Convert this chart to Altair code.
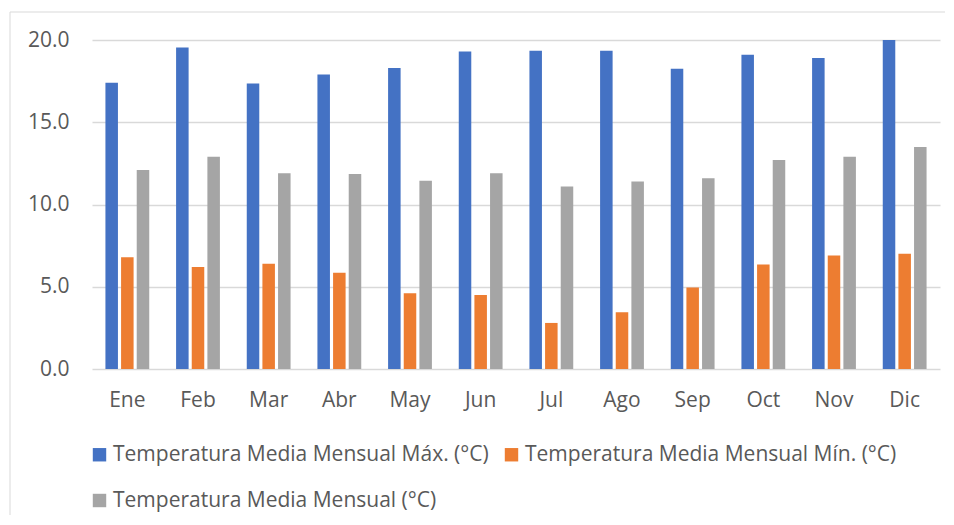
import altair as alt
import pandas as pd

months = ["Ene", "Feb", "Mar", "Abr", "May", "Jun", "Jul", "Ago", "Sep", "Oct", "Nov", "Dic"]
tmax = [17.4, 19.55, 17.35, 17.9, 18.3, 19.3, 19.35, 19.35, 18.25, 19.1, 18.9, 20.0]
tmin = [6.8, 6.2, 6.4, 5.85, 4.6, 4.5, 2.8, 3.45, 4.95, 6.35, 6.9, 7.0]
tmean = [12.1, 12.9, 11.9, 11.85, 11.45, 11.9, 11.1, 11.4, 11.6, 12.7, 12.9, 13.5]

series = [
    "Temperatura Media Mensual Máx. (°C)",
    "Temperatura Media Mensual Mín. (°C)",
    "Temperatura Media Mensual (°C)",
]
colors = ["#4472C4", "#ED7D31", "#A5A5A5"]

rows = []
for i, m in enumerate(months):
    for s, vals in zip(series, [tmax, tmin, tmean]):
        rows.append({"Mes": m, "Serie": s, "Valor": vals[i]})
df = pd.DataFrame(rows)

FONT = "Open Sans"
FS = 21
TXT = "#595959"
GRID = "#d9d9d9"

bars = alt.Chart(df).mark_bar().encode(
    x=alt.X(
        "Mes:N",
        sort=months,
        title=None,
        scale=alt.Scale(paddingInner=0.38, paddingOuter=0.19),
        axis=alt.Axis(
            labelAngle=0, ticks=False, domain=False, labelFontSize=FS,
            labelColor=TXT, labelFont=FONT, labelPadding=20, grid=False,
        ),
    ),
    xOffset=alt.XOffset(
        "Serie:N", sort=series,
        scale=alt.Scale(paddingInner=0.2, paddingOuter=0),
    ),
    y=alt.Y(
        "Valor:Q",
        title=None,
        scale=alt.Scale(domain=[0, 20], nice=False),
        axis=alt.Axis(
            values=[0, 5, 10, 15, 20], format=".1f", ticks=False, domain=False,
            labelFontSize=FS, labelColor=TXT, labelFont=FONT, labelPadding=23,
            gridColor=GRID, gridWidth=1.5,
        ),
    ),
    color=alt.Color(
        "Serie:N",
        sort=series,
        scale=alt.Scale(domain=series, range=colors),
        legend=alt.Legend(
            title=None, orient="none", legendX=-3, legendY=404, columns=2,
            direction="horizontal",
            symbolType="square", symbolSize=180, symbolStrokeWidth=0,
            labelFontSize=FS, labelColor=TXT, labelFont=FONT, labelOffset=3,
            columnPadding=12, rowPadding=24, padding=0, labelLimit=0,
        ),
    ),
)

frame = pd.DataFrame({"x1": [-82, -82], "x2": [853, -82], "y1": [-28, -28], "y2": [-28, 480]})
border = alt.Chart(frame).mark_rule(stroke=GRID, strokeWidth=1).encode(
    x=alt.X("x1:Q", scale=None), x2="x2:Q",
    y=alt.Y("y1:Q", scale=None), y2="y2:Q",
)

chart = alt.layer(border, bars).properties(
    width=848, height=329,
    autosize=alt.AutoSizeParams(type="none"),
    padding={"left": 84, "top": 32, "right": 6, "bottom": 146},
).configure_view(stroke=None)

chart.save("out.html", embed_options={"renderer": "svg", "actions": False})
